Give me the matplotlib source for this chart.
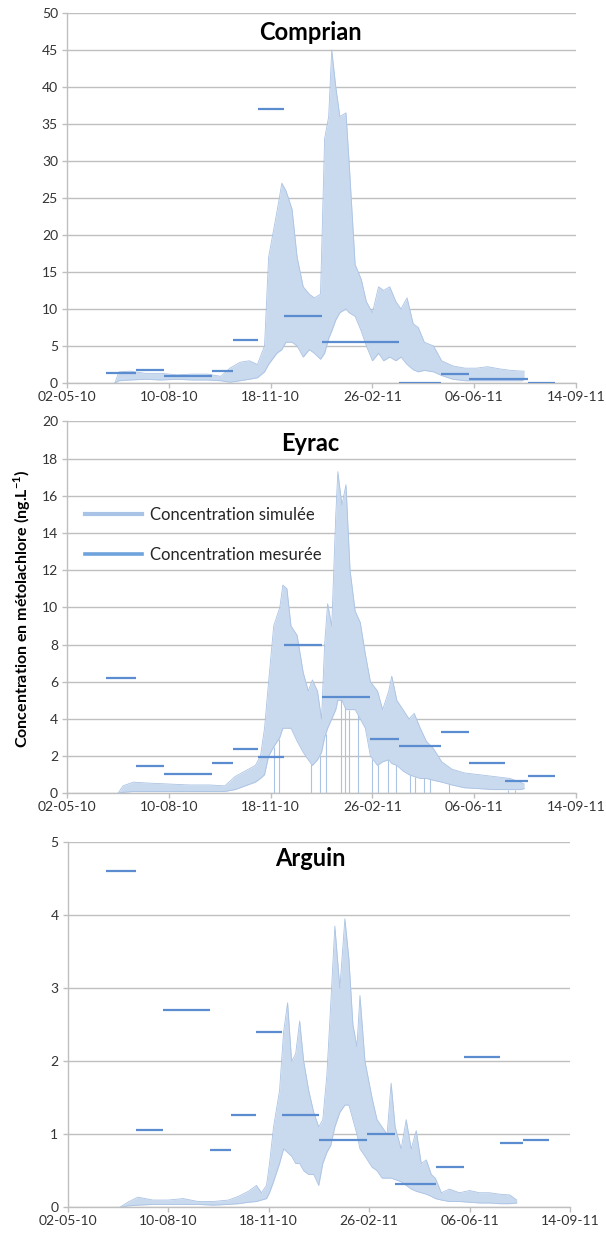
import matplotlib
matplotlib.use("Agg")
import matplotlib.pyplot as plt
import matplotlib.dates as mdates
from matplotlib.lines import Line2D
import numpy as np
import pandas as pd

plt.rcParams["font.family"] = ["Lato", "DejaVu Sans"]
plt.rcParams["mathtext.fontset"] = "custom"
plt.rcParams["mathtext.rm"] = "Lato"
plt.rcParams["mathtext.bf"] = "Lato:bold"

# ── Données ───────────────────────────────────────────────────────────────────
START = pd.Timestamp("2010-05-02")
XTICKS = pd.date_range(START, periods=6, freq="100D")

# bornes des périodes d'échantillonnage passif
SAMPLE_DATES = pd.to_datetime([
    "2010-06-09", "2010-07-09", "2010-08-05", "2010-09-21", "2010-10-12",
    "2010-11-06", "2010-12-01", "2011-01-07", "2011-02-24", "2011-03-24",
    "2011-05-04", "2011-06-01", "2011-07-06", "2011-07-29", "2011-08-24",
])

# concentrations mesurées : (indice début, indice fin, valeur)
comprian_mes = [(0, 1, 1.35), (1, 2, 1.7), (2, 3, 1.0), (3, 4, 1.55), (4, 5, 5.8),
                (5, 6, 37.0), (6, 7, 9.1), (7, 9, 5.5), (9, 10, 0.0), (10, 11, 1.2),
                (11, 13, 0.6), (13, 14, 0.0)]
eyrac_mes = [(0, 1, 6.2), (1, 2, 1.47), (2, 3, 1.02), (3, 4, 1.63), (4, 5, 2.39),
             (5, 6, 1.97), (6, 7, 7.95), (7, 8, 5.2), (8, 9, 2.93), (9, 10, 2.55),
             (10, 11, 3.28), (11, 12, 1.63), (12, 13, 0.65), (13, 14, 0.95)]
arguin_mes = [(0, 1, 4.6), (1, 2, 1.06), (2, 3, 2.7), (3, 4, 0.78), (4, 5, 1.265),
              (5, 6, 2.4), (6, 7, 1.26), (7, 8, 0.92), (8, 9, 1.01), (9, 10, 0.32),
              (10, 11, 0.55), (11, 12, 2.06), (12, 13, 0.88), (13, 14, 0.92)]

# concentration simulée : enveloppe haute / basse (jours depuis le 02-05-10)
comprian_days = [47, 51, 62, 77, 92, 108, 123, 138, 151, 160, 170, 179, 187, 194, 198,
                 206, 211, 215, 221, 226, 232, 238, 243, 249, 253, 257, 260, 264, 268,
                 274, 277, 283, 289, 294, 300, 306, 311, 317, 323, 328, 334, 340, 345,
                 351, 360, 368, 379, 391, 402, 413, 425, 436, 447, 449]
comprian_hi = [0, 1.5, 1.6, 1.3, 1.3, 1.1, 1.2, 1.2, 0.9, 2.0, 2.8, 3.0, 2.5, 5.0, 17,
               23, 27, 26, 23.5, 17, 13, 12, 11.5, 12, 33, 36, 45, 40, 36,
               36.5, 30, 16, 14, 11, 9.5, 13, 12.5, 13, 11, 10, 11.5, 8, 7.5,
               5.5, 5, 3, 2.3, 2.0, 2.0, 2.2, 1.9, 1.7, 1.6, 1.6]
comprian_lo = [0, 0.3, 0.4, 0.5, 0.4, 0.5, 0.4, 0.4, 0.3, 0.1, 0.3, 0.5, 0.7, 1.5, 2.5,
               4.0, 4.5, 5.5, 5.5, 5.0, 3.5, 4.5, 4.0, 3.2, 4.0, 6.0, 7.0, 8.5, 9.5,
               10, 9.5, 9, 7, 5, 3.0, 4.0, 3.0, 3.5, 3.0, 3.5, 2.5, 1.8, 1.5,
               1.7, 1.5, 1.0, 0.5, 0.3, 0.3, 0.3, 0.3, 0.3, 0.3, 0.5]

eyrac_days = [50, 55, 65, 80, 100, 120, 140, 155, 165, 175, 185, 190, 194, 198, 203,
              209, 212, 216, 220, 226, 232, 237, 241, 246, 250, 253, 256, 260, 264,
              266, 270, 274, 278, 283, 288, 293, 298, 305, 310, 316, 319, 324, 330,
              336, 341, 347, 353, 360, 368, 378, 390, 405, 420, 435, 445, 449]
eyrac_hi = [0, 0.4, 0.6, 0.55, 0.5, 0.45, 0.45, 0.4, 0.9, 1.2, 1.5, 2.0, 3.5, 6.0, 9.0,
            10.0, 11.2, 11.0, 9.0, 8.5, 6.5, 5.5, 6.1, 5.5, 4.0, 8.0, 10.2, 9.0, 15.0,
            17.3, 15.5, 16.6, 12.0, 9.8, 9.2, 7.5, 6.0, 5.5, 4.5, 5.5, 6.3, 5.0, 4.5,
            4.0, 4.3, 3.5, 2.8, 2.4, 1.7, 1.3, 1.1, 1.0, 0.9, 0.8, 0.6, 0.5]
eyrac_lo = [0, 0.05, 0.1, 0.1, 0.1, 0.1, 0.1, 0.1, 0.2, 0.4, 0.6, 0.8, 1.0, 2.0, 2.5,
            3.0, 3.5, 3.5, 3.5, 2.8, 2.2, 1.8, 1.5, 1.8, 2.2, 3.0, 3.5, 4.0, 4.5,
            5.0, 5.0, 4.5, 4.5, 4.5, 4.0, 3.5, 2.0, 1.5, 1.7, 1.8, 1.6, 1.5, 1.2,
            1.0, 0.9, 0.8, 0.8, 0.7, 0.6, 0.45, 0.3, 0.25, 0.2, 0.2, 0.2, 0.25]
# chutes ponctuelles à zéro de la série simulée (Eyrac)
eyrac_drops = [203, 208, 240, 248, 254, 269, 273, 277, 286, 300, 305, 315, 323,
               337, 342, 351, 357, 375, 433, 440]

arguin_days = [52, 60, 70, 85, 100, 115, 130, 145, 160, 170, 180, 188, 193, 198, 201,
               205, 211, 215, 219, 223, 227, 231, 235, 240, 245, 250, 254, 258, 262,
               266, 271, 276, 280, 284, 288, 291, 296, 303, 308, 313, 318, 322, 326,
               332, 337, 342, 347, 352, 357, 362, 366, 372, 380, 390, 400, 410, 420,
               430, 440, 447]
arguin_hi = [0, 0.07, 0.14, 0.1, 0.1, 0.12, 0.08, 0.08, 0.1, 0.15, 0.22, 0.3, 0.2, 0.3, 0.6,
             1.1, 1.6, 2.4, 2.8, 2.0, 2.1, 2.55, 2.0, 1.6, 1.3, 1.1, 1.2, 1.8, 2.8,
             3.85, 3.0, 3.95, 3.4, 2.5, 2.2, 2.9, 2.0, 1.5, 1.2, 1.1, 1.0, 1.7, 1.1,
             0.8, 1.2, 0.8, 1.05, 0.6, 0.65, 0.45, 0.4, 0.2, 0.25, 0.2, 0.23, 0.2, 0.2,
             0.18, 0.17, 0.1]
arguin_lo = [0, 0.02, 0.03, 0.04, 0.04, 0.04, 0.04, 0.03, 0.04, 0.05, 0.07, 0.08, 0.1, 0.12, 0.2,
             0.35, 0.6, 0.8, 0.75, 0.7, 0.6, 0.6, 0.5, 0.45, 0.45, 0.3, 0.6, 0.75, 0.85,
             1.1, 1.3, 1.4, 1.4, 1.2, 1.0, 0.8, 0.7, 0.55, 0.5, 0.4, 0.4, 0.4, 0.38,
             0.35, 0.3, 0.25, 0.22, 0.2, 0.18, 0.15, 0.12, 0.1, 0.08, 0.08, 0.07, 0.06, 0.06,
             0.05, 0.05, 0.06]

# ── Style ─────────────────────────────────────────────────────────────────────
SIM_FILL = "#c9d9ee"
SIM_EDGE = "#abc3e4"
MES_COLOR = "#5b8ccf"
GRID = "#bfbfbf"
TXT = "#333333"

fig = plt.figure(figsize=(6.06, 12.33), dpi=100)

panels = [
    ("Comprian", [0.1106, 0.6894, 0.8400, 0.3001], 50, 5,
     comprian_days, comprian_hi, comprian_lo, comprian_mes, 0.974),
    ("Eyrac", [0.1106, 0.3566, 0.8400, 0.3016], 20, 2,
     eyrac_days, eyrac_hi, eyrac_lo, eyrac_mes, 0.640),
    ("Arguin", [0.1114, 0.0208, 0.8292, 0.2963], 5, 1,
     arguin_days, arguin_hi, arguin_lo, arguin_mes, 0.304),
]

axes = []
for name, rect, ymax, ystep, days, hi, lo, mes, ty in panels:
    ax = fig.add_axes(rect)
    axes.append(ax)
    dates = START + pd.to_timedelta(days, unit="D")

    ax.fill_between(dates, lo, hi, color=SIM_FILL, lw=0, zorder=2)
    ax.plot(dates, hi, color=SIM_EDGE, lw=0.6, zorder=2)
    ax.plot(dates, lo, color=SIM_EDGE, lw=0.6, zorder=2)

    if name == "Eyrac":
        drops = START + pd.to_timedelta(eyrac_drops, unit="D")
        tops = np.interp(eyrac_drops, days, lo)
        ax.vlines(drops, 0, tops, color=SIM_EDGE, lw=0.8, zorder=2)

    starts = [SAMPLE_DATES[i] for i, j, v in mes]
    ends = [SAMPLE_DATES[j] for i, j, v in mes]
    vals = [v for i, j, v in mes]
    ax.hlines(vals, starts, ends, color=MES_COLOR, lw=1.6, zorder=4)

    ax.set_xlim(XTICKS[0], XTICKS[-1])
    ax.set_ylim(0, ymax)
    ax.set_yticks(np.arange(0, ymax + ystep / 2, ystep))
    ax.set_xticks(XTICKS)
    ax.xaxis.set_major_formatter(mdates.DateFormatter("%d-%m-%y"))

    ax.grid(axis="y", color=GRID, lw=1.0, zorder=0)
    ax.set_axisbelow(True)
    for s in ["top", "right"]:
        ax.spines[s].set_visible(False)
    for s in ["left", "bottom"]:
        ax.spines[s].set_color(GRID)
        ax.spines[s].set_linewidth(1.0)
    ax.tick_params(axis="both", colors=GRID, labelcolor=TXT, labelsize=10,
                   length=3.5, width=1.0, direction="out")
    ax.tick_params(axis="x", pad=2)
    ax.tick_params(axis="y", pad=3)

    fig.text(0.512, ty, name, ha="center", va="center",
             fontsize=17, fontweight="bold", color="black")

# légende (panneau Eyrac)
handles = [Line2D([], [], color="#a9c3e7", lw=3.0),
           Line2D([], [], color="#6fa3dc", lw=2.6)]
axes[1].legend(handles, ["Concentration simulée", "Concentration mesurée"],
               loc="center left", bbox_to_anchor=(0.035, 0.694), frameon=False,
               fontsize=12, handlelength=3.4, handletextpad=0.5,
               labelspacing=1.45, borderpad=0, borderaxespad=0,
               labelcolor="#262626")

fig.text(22 / 606, 1 - 609 / 1233,
         r"Concentration en métolachlore (ng.L$^{\mathbf{-1}}$)",
         rotation=90, ha="center", va="center", fontsize=11.5,
         fontweight="bold", color="black")

fig.savefig("out.png", dpi=100, facecolor="white")
plt.close(fig)
